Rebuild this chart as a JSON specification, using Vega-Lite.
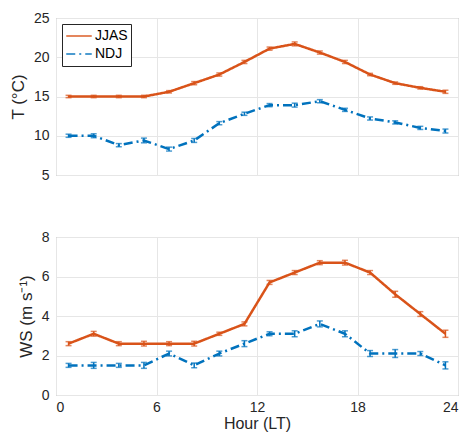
{
  "$schema": "https://vega.github.io/schema/vega-lite/v6.json",
  "padding": {"left": 8, "top": 10, "right": 0, "bottom": 0},
  "spacing": 46,
  "config": {
    "font": "Liberation Sans",
    "view": {"stroke": "#9a9a9a", "strokeWidth": 1},
    "axis": {
      "labelFontSize": 14,
      "titleFontSize": 17,
      "titleFontWeight": "normal",
      "labelColor": "#262626",
      "titleColor": "#262626",
      "domain": false,
      "ticks": false,
      "gridColor": "#e6e6e6",
      "gridWidth": 1,
      "labelPadding": 7,
      "labelOverlap": false
    },
    "legend": {
      "orient": "top-left",
      "offset": 6,
      "strokeColor": "#262626",
      "fillColor": "white",
      "padding": 3,
      "labelFontSize": 14,
      "labelColor": "#000000",
      "symbolType": "stroke",
      "symbolSize": 650,
      "symbolStrokeWidth": 2,
      "rowPadding": 0,
      "clipHeight": 18,
      "labelOffset": 2,
      "cornerRadius": 0
    }
  },
  "data": {"values": [
    {"hour": 0.75, "season": "JJAS", "T": 15.0, "Terr": 0.15, "WS": 2.6, "WSerr": 0.1},
    {"hour": 2.25, "season": "JJAS", "T": 15.0, "Terr": 0.15, "WS": 3.1, "WSerr": 0.12},
    {"hour": 3.75, "season": "JJAS", "T": 15.0, "Terr": 0.15, "WS": 2.6, "WSerr": 0.1},
    {"hour": 5.25, "season": "JJAS", "T": 15.0, "Terr": 0.15, "WS": 2.6, "WSerr": 0.12},
    {"hour": 6.75, "season": "JJAS", "T": 15.6, "Terr": 0.15, "WS": 2.6, "WSerr": 0.1},
    {"hour": 8.25, "season": "JJAS", "T": 16.7, "Terr": 0.2, "WS": 2.6, "WSerr": 0.12},
    {"hour": 9.75, "season": "JJAS", "T": 17.8, "Terr": 0.2, "WS": 3.1, "WSerr": 0.08},
    {"hour": 11.25, "season": "JJAS", "T": 19.4, "Terr": 0.2, "WS": 3.6, "WSerr": 0.1},
    {"hour": 12.75, "season": "JJAS", "T": 21.1, "Terr": 0.2, "WS": 5.7, "WSerr": 0.1},
    {"hour": 14.25, "season": "JJAS", "T": 21.7, "Terr": 0.25, "WS": 6.2, "WSerr": 0.1},
    {"hour": 15.75, "season": "JJAS", "T": 20.6, "Terr": 0.2, "WS": 6.7, "WSerr": 0.1},
    {"hour": 17.25, "season": "JJAS", "T": 19.4, "Terr": 0.2, "WS": 6.7, "WSerr": 0.12},
    {"hour": 18.75, "season": "JJAS", "T": 17.8, "Terr": 0.15, "WS": 6.2, "WSerr": 0.1},
    {"hour": 20.25, "season": "JJAS", "T": 16.7, "Terr": 0.15, "WS": 5.1, "WSerr": 0.15},
    {"hour": 21.75, "season": "JJAS", "T": 16.1, "Terr": 0.15, "WS": 4.1, "WSerr": 0.12},
    {"hour": 23.25, "season": "JJAS", "T": 15.6, "Terr": 0.2, "WS": 3.1, "WSerr": 0.18},
    {"hour": 0.75, "season": "NDJ", "T": 10.0, "Terr": 0.2, "WS": 1.5, "WSerr": 0.1},
    {"hour": 2.25, "season": "NDJ", "T": 10.0, "Terr": 0.25, "WS": 1.5, "WSerr": 0.15},
    {"hour": 3.75, "season": "NDJ", "T": 8.8, "Terr": 0.2, "WS": 1.5, "WSerr": 0.1},
    {"hour": 5.25, "season": "NDJ", "T": 9.4, "Terr": 0.3, "WS": 1.5, "WSerr": 0.15},
    {"hour": 6.75, "season": "NDJ", "T": 8.3, "Terr": 0.25, "WS": 2.1, "WSerr": 0.12},
    {"hour": 8.25, "season": "NDJ", "T": 9.4, "Terr": 0.25, "WS": 1.5, "WSerr": 0.12},
    {"hour": 9.75, "season": "NDJ", "T": 11.6, "Terr": 0.2, "WS": 2.1, "WSerr": 0.12},
    {"hour": 11.25, "season": "NDJ", "T": 12.8, "Terr": 0.2, "WS": 2.6, "WSerr": 0.15},
    {"hour": 12.75, "season": "NDJ", "T": 13.9, "Terr": 0.2, "WS": 3.1, "WSerr": 0.1},
    {"hour": 14.25, "season": "NDJ", "T": 13.9, "Terr": 0.25, "WS": 3.1, "WSerr": 0.15},
    {"hour": 15.75, "season": "NDJ", "T": 14.4, "Terr": 0.2, "WS": 3.6, "WSerr": 0.15},
    {"hour": 17.25, "season": "NDJ", "T": 13.3, "Terr": 0.2, "WS": 3.1, "WSerr": 0.15},
    {"hour": 18.75, "season": "NDJ", "T": 12.2, "Terr": 0.2, "WS": 2.1, "WSerr": 0.15},
    {"hour": 20.25, "season": "NDJ", "T": 11.7, "Terr": 0.2, "WS": 2.1, "WSerr": 0.2},
    {"hour": 21.75, "season": "NDJ", "T": 11.0, "Terr": 0.2, "WS": 2.1, "WSerr": 0.1},
    {"hour": 23.25, "season": "NDJ", "T": 10.6, "Terr": 0.25, "WS": 1.5, "WSerr": 0.18}
  ]},
  "vconcat": [
    {
      "width": 402,
      "height": 157,
      "encoding": {
        "x": {"field": "hour", "type": "quantitative", "scale": {"domain": [0, 24], "nice": false},
              "axis": {"values": [0, 6, 12, 18, 24], "labels": false, "title": null, "labelPadding": 0}},
        "y": {"field": "T", "type": "quantitative", "scale": {"domain": [5, 25], "nice": false},
              "axis": {"values": [5, 10, 15, 20, 25], "title": "T (°C)", "titlePadding": 6}},
        "color": {"field": "season", "type": "nominal", "title": null,
                  "scale": {"domain": ["JJAS", "NDJ"], "range": ["#D95319", "#0072BD"]}}
      },
      "layer": [
        {
          "mark": {"type": "line", "strokeWidth": 2.5},
          "encoding": {
            "strokeDash": {"field": "season", "type": "nominal", "title": null,
                           "scale": {"domain": ["JJAS", "NDJ"], "range": [[1, 0], [9, 4, 2, 4]]}}
          }
        },
        {
          "mark": {"type": "errorbar", "ticks": {"size": 6}, "thickness": 1.5},
          "encoding": {
            "yError": {"field": "Terr"}
          }
        }
      ]
    },
    {
      "width": 402,
      "height": 158,
      "encoding": {
        "x": {"field": "hour", "type": "quantitative", "scale": {"domain": [0, 24], "nice": false},
              "axis": {"values": [0, 6, 12, 18, 24], "title": "Hour (LT)", "titlePadding": 1, "labelPadding": 5, "titleFontSize": 16}},
        "y": {"field": "WS", "type": "quantitative", "scale": {"domain": [0, 8], "nice": false},
              "axis": {"values": [0, 2, 4, 6, 8], "title": "WS (m s⁻¹)", "titlePadding": 6}},
        "color": {"field": "season", "type": "nominal",
                  "scale": {"domain": ["JJAS", "NDJ"], "range": ["#D95319", "#0072BD"]}, "legend": null}
      },
      "layer": [
        {
          "mark": {"type": "line", "strokeWidth": 2.5},
          "encoding": {
            "strokeDash": {"field": "season", "type": "nominal",
                           "scale": {"domain": ["JJAS", "NDJ"], "range": [[1, 0], [9, 4, 2, 4]]}, "legend": null}
          }
        },
        {
          "mark": {"type": "errorbar", "ticks": {"size": 6}, "thickness": 1.5},
          "encoding": {
            "yError": {"field": "WSerr"}
          }
        }
      ]
    }
  ],
  "resolve": {"scale": {"y": "independent"}, "legend": {"color": "independent", "strokeDash": "independent"}}
}
